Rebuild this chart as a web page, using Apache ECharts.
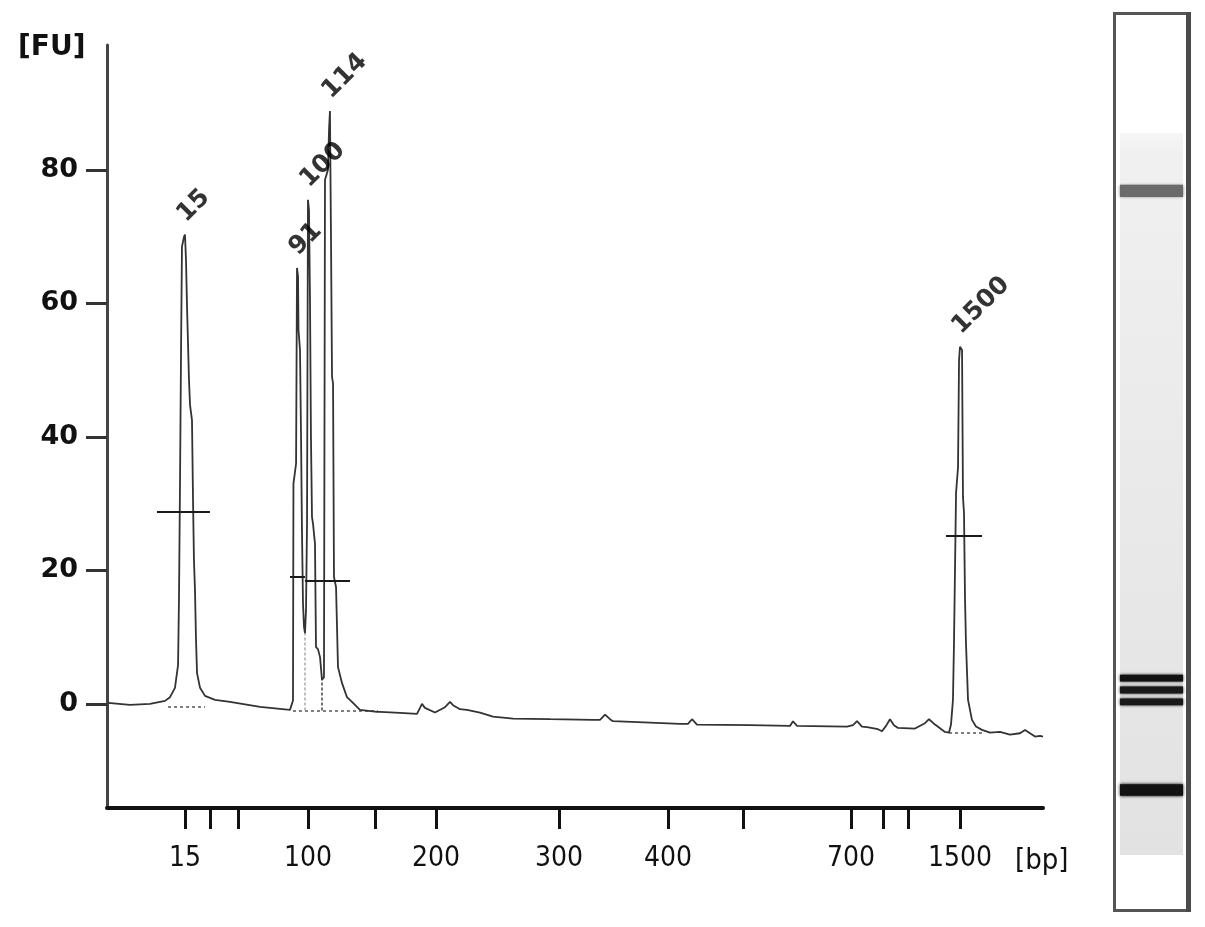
<!DOCTYPE html>
<html>
<head>
<meta charset="utf-8">
<script src="https://cdn.jsdelivr.net/npm/echarts@6/dist/echarts.min.js"></script>
<style>
html,body{margin:0;padding:0;background:#fff;}
#chart{width:1205px;height:927px;}
</style>
</head>
<body>
<div id="chart"></div>
<script>
// ---- Data (x = relative migration position 0..100, y = fluorescence [FU]) ----
const ladderBp     = [15, 25, 50, 100, 150, 200, 300, 400, 500, 700, 850, 1000, 1500];
const ladderPos    = [8.33, 11.0, 14.0, 21.47, 28.63, 35.15, 48.29, 59.94, 67.95, 79.49, 82.91, 85.58, 91.13];
const labeledBp    = [15, 100, 200, 300, 400, 700, 1500];
const yTickValues  = [0, 20, 40, 60, 80];

const tracePos = [0.11,2.46,4.59,6.20,6.73,7.26,7.59,7.69,7.80,7.91,8.01,8.23,8.33,8.44,8.55,8.76,8.87,9.08,9.19,9.29,9.40,9.51,9.62,9.94,10.47,11.54,13.14,16.35,19.55,
  19.76,19.87,19.92,20.20,20.30,20.41,20.46,20.62,20.73,20.83,20.94,21.05,21.15,21.26,21.37,21.47,21.58,21.69,21.79,21.90,22.01,22.22,22.33,22.54,22.76,22.97,23.18,23.29,23.61,23.72,23.82,23.93,24.04,24.15,24.25,24.47,24.68,25.11,25.64,26.28,27.03,28.85,
  29.17,31.30,33.12,33.44,33.65,33.97,35.04,36.11,36.65,36.97,37.71,38.46,39.85,41.24,43.38,47.33,51.92,52.67,53.21,53.74,54.06,58.01,61.22,62.07,62.50,63.03,68.70,72.97,73.29,73.72,79.06,79.70,80.13,80.66,81.20,82.37,82.80,83.23,83.65,84.08,84.51,86.32,87.39,87.82,88.46,89.53,89.96,
  90.17,90.38,90.49,90.71,90.92,91.03,91.13,91.35,91.45,91.56,91.67,91.77,91.99,92.41,92.84,93.48,94.34,95.41,96.47,97.54,98.08,98.61,99.15,99.68,100];
const traceFU = [0.15,-0.15,0.0,0.45,1.0,2.4,5.8,15.6,33,53,68.5,70,70.3,66.5,59.5,48.5,44.8,42.5,30.6,21.6,17,9.6,4.6,2.4,1.2,0.6,0.3,-0.45,-0.9,
  -0.9,0.5,33,36,65.3,64,56,53,40,26,15,11.5,10.6,14,27,75.5,74,60,40,28,27,24,8.5,8.2,7,3.6,4,78.5,80,86,88.8,70,49,48,19,17.5,5.5,3.1,1,0.15,-0.9,-1.2,
  -1.2,-1.35,-1.5,-0.6,0.0,-0.6,-1.3,-0.5,0.3,-0.2,-0.8,-0.9,-1.3,-1.9,-2.2,-2.3,-2.4,-2.4,-1.6,-2.3,-2.6,-2.8,-3.0,-3.0,-2.3,-3.1,-3.2,-3.3,-2.6,-3.3,-3.4,-3.2,-2.6,-3.4,-3.5,-3.8,-4.1,-3.3,-2.3,-3.2,-3.6,-3.7,-2.9,-2.3,-3.1,-4.2,-4.3,
  -3.1,0.6,9.1,31.6,35.4,51.5,53.5,53,31,28.6,15.6,9.1,0.6,-2.4,-3.4,-3.9,-4.3,-4.2,-4.6,-4.4,-3.9,-4.4,-4.9,-4.8,-4.9];

const peakNames = ['15', '91', '100', '114', '1500'];
const peakPos   = [8.33, 20.30, 21.47, 23.82, 91.13];
const peakFU    = [70.3, 65.3, 75.5, 88.8, 53.5];

// half-height markers: [startPos, endPos, FU]
const markerStart = [5.34, 19.55, 21.15, 89.64];
const markerEnd   = [11.0, 21.15, 25.96, 93.48];
const markerFU    = [28.8, 19.0, 18.4, 25.2];

// dotted peak baselines: [startPos, endPos, FU]
const baseStart = [6.52, 19.87, 89.96];
const baseEnd   = [10.47, 28.95, 93.48];
const baseFU    = [-0.45, -1.0, -4.3];

// dotted separators: [pos, fromFU, toFU]
const sepPos  = [21.15, 22.97];
const sepFrom = [-1.0, -1.0];
const sepTo   = [10.6, 3.6];

// gel lane (position 0..100 from top of lane)
const gelBandPos       = [8.03, 75.5, 77.15, 78.8, 91.0];
const gelBandThickness = [1.7, 0.95, 0.95, 0.95, 1.6];
const gelBandIntensity = [0.58, 0.93, 0.9, 0.9, 0.93];

// ---- Build ----
const traceData = tracePos.map((p, i) => [p, traceFU[i]]);
const bpAt = {};
ladderPos.forEach((p, i) => { bpAt[p.toFixed(2)] = ladderBp[i]; });
const labeledPos = ladderPos.filter((p, i) => labeledBp.indexOf(ladderBp[i]) >= 0);

const markerData = markerStart.map((s, i) => ({coords: [[s, markerFU[i]], [markerEnd[i], markerFU[i]]]}));
const baseData = baseStart.map((s, i) => ({coords: [[s, baseFU[i]], [baseEnd[i], baseFU[i]]]}));
const sepData = sepPos.map((p, i) => ({coords: [[p, sepFrom[i]], [p, sepTo[i]]],
  lineStyle: {color: i === 0 ? '#aaaaaa' : '#444444'}}));
const gelData = gelBandPos.map((p, i) => [p, gelBandThickness[i], gelBandIntensity[i]]);

const chart = echarts.init(document.getElementById('chart'), null, {renderer: 'canvas'});

const option = {
  backgroundColor: '#ffffff',
  animation: false,
  title: [
    {text: '[FU]', left: 13, top: 29,
     textStyle: {fontFamily: 'DejaVu Sans', fontWeight: 'bold', fontSize: 28, color: '#111'}},
    {text: '[bp]', left: 1010, top: 842,
     textStyle: {fontFamily: 'DejaVu Sans Condensed, DejaVu Sans', fontWeight: 'normal', fontSize: 29, color: '#111'}}
  ],
  grid: [
    {left: 107, right: 162, top: 45, bottom: 119, containLabel: false},
    {left: 1120, width: 63, top: 133, height: 722, show: true, borderWidth: 0,
     backgroundColor: new echarts.graphic.LinearGradient(0, 0, 0, 1, [
       {offset: 0, color: '#f6f6f6'}, {offset: 0.03, color: '#f0f0f0'},
       {offset: 0.6, color: '#e8e8e8'}, {offset: 1, color: '#e2e2e2'}])}
  ],
  xAxis: [
    {
      type: 'value', gridIndex: 0, min: 0, max: 100,
      axisLine: {show: true, onZero: false, lineStyle: {color: '#111', width: 4}},
      axisTick: {show: true, inside: false, length: 21, customValues: ladderPos,
                 lineStyle: {color: '#111', width: 3}},
      axisLabel: {show: true, customValues: labeledPos, margin: 37,
                  fontFamily: 'DejaVu Sans Condensed, DejaVu Sans', fontSize: 28, color: '#111',
                  formatter: v => String(bpAt[Number(v).toFixed(2)])},
      splitLine: {show: false}
    },
    {type: 'value', gridIndex: 1, min: 0, max: 1, show: false}
  ],
  yAxis: [
    {
      type: 'value', gridIndex: 0, min: -15.6, max: 98.7,
      axisLine: {show: true, onZero: false, lineStyle: {color: '#444', width: 3}},
      axisTick: {show: true, inside: false, length: 21, customValues: yTickValues,
                 lineStyle: {color: '#333', width: 3}},
      axisLabel: {show: true, customValues: yTickValues, margin: 29,
                  fontFamily: 'DejaVu Sans', fontWeight: 'bold', fontSize: 27, color: '#111'},
      splitLine: {show: false}
    },
    {type: 'value', gridIndex: 1, min: 0, max: 100, inverse: true, show: false}
  ],
  series: [
    {
      type: 'line', xAxisIndex: 0, yAxisIndex: 0, data: traceData,
      showSymbol: false, symbol: 'none', smooth: false,
      lineStyle: {color: '#333333', width: 1.8}, z: 3
    },
    {
      type: 'lines', coordinateSystem: 'cartesian2d', xAxisIndex: 0, yAxisIndex: 0,
      data: markerData, lineStyle: {color: '#1a1a1a', width: 2, opacity: 1}, z: 4
    },
    {
      type: 'lines', coordinateSystem: 'cartesian2d', xAxisIndex: 0, yAxisIndex: 0,
      data: baseData, lineStyle: {color: '#555', width: 1.5, type: [3, 3], opacity: 1}, z: 2
    },
    {
      type: 'lines', coordinateSystem: 'cartesian2d', xAxisIndex: 0, yAxisIndex: 0,
      data: sepData, lineStyle: {width: 1.5, type: [3, 2], opacity: 1}, z: 2
    },
    {
      type: 'scatter', xAxisIndex: 0, yAxisIndex: 0, symbolSize: 0,
      data: peakNames.map((n, i) => ({name: n, value: [peakPos[i], peakFU[i]]})),
      label: {show: true, formatter: p => p.name, position: 'top', distance: 20,
              rotate: 45, align: 'left', verticalAlign: 'middle', offset: [-5, 0],
              fontFamily: 'DejaVu Sans', fontWeight: 'bold', fontSize: 25, color: '#000'},
      z: 5
    },
    {
      type: 'custom', xAxisIndex: 1, yAxisIndex: 1, data: gelData,
      renderItem: function (params, api) {
        const a = api.coord([0, api.value(0)]);
        const b = api.coord([1, api.value(0)]);
        const h = api.size([0, api.value(1)])[1];
        const g = Math.round(255 * (1 - api.value(2)));
        const col = 'rgb(' + g + ',' + g + ',' + g + ')';
        return {type: 'rect', shape: {x: a[0], y: a[1] - h / 2, width: b[0] - a[0], height: h},
                style: {fill: col, shadowBlur: 3, shadowColor: col}};
      }
    }
  ],
  graphic: [
    {type: 'rect', shape: {x: 1114.5, y: 13.5, width: 74, height: 897},
     style: {fill: 'none', stroke: '#555', lineWidth: 3}, z: 10},
    {type: 'rect', shape: {x: 1186, y: 12, width: 5, height: 900},
     style: {fill: '#4a4a4a'}, z: 10}
  ]
};
chart.setOption(option);
</script>
</body>
</html>
